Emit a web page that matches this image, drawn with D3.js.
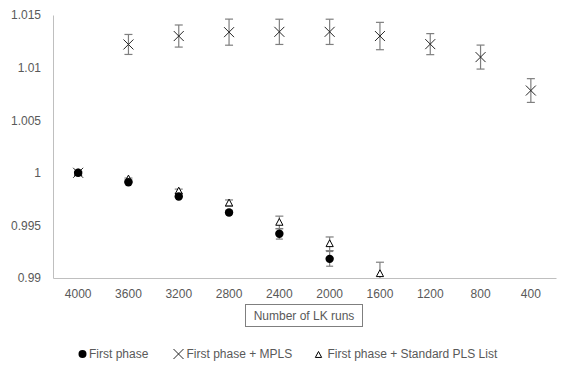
<!DOCTYPE html>
<html>
<head>
<meta charset="utf-8">
<script src="https://cdn.jsdelivr.net/npm/d3@7"></script>
<style>
  body { margin: 0; background: #fff; }
  text { font-family: "Liberation Sans", Arial, sans-serif; }
</style>
</head>
<body>
<div id="chart"></div>
<script>
var width = 572, height = 376
var margin = {top: 15, right: 16, bottom: 98, left: 53}

// data
var runs = ["4000", "3600", "3200", "2800", "2400", "2000", "1600", "1200", "800", "400"]
var firstPhase = [1.0, 0.9991, 0.99775, 0.99623, 0.9942, 0.99182]
var firstPhaseErr = [0.0001, 0.0001, 0.00015, 0.0002, 0.0005, 0.0007]
var mpls = [1.0, 1.0122, 1.0130, 1.01337, 1.0134, 1.0134, 1.0130, 1.01223, 1.0110, 1.00782]
var mplsErr = [0.0001, 0.00095, 0.00105, 0.00124, 0.0012, 0.0012, 0.0013, 0.001, 0.00114, 0.00113]
var standardPls = [1.0, 0.9994, 0.99825, 0.99712, 0.99528, 0.99325, 0.9904]
var standardPlsErr = [0.0001, 0.0001, 0.0002, 0.0003, 0.0006, 0.00065, 0.0011]
var yTicks = [0.99, 0.995, 1, 1.005, 1.01, 1.015]

var svg = d3.select("#chart")
  .append("svg")
  .attr("width", width)
  .attr("height", height)

var xScale = d3.scaleBand()
  .domain(runs)
  .range([margin.left, width - margin.right])

var yScale = d3.scaleLinear()
  .domain([0.99, 1.015])
  .range([height - margin.bottom, margin.top])

// clip to plot area
svg.append("clipPath")
  .attr("id", "plot-clip")
  .append("rect")
  .attr("x", margin.left)
  .attr("y", margin.top - 2)
  .attr("width", xScale.range()[1] - margin.left)
  .attr("height", yScale(0.99) - margin.top + 2)

// Y axis
var yAxis = d3.axisLeft(yScale)
  .tickValues(yTicks)
  .tickSize(0)
  .tickPadding(12)
  .tickFormat(d => String(+d.toFixed(3)))

svg.append("g")
  .attr("transform", `translate(${margin.left},0)`)
  .attr("class", "y-axis")
  .call(yAxis)
  .call(g => g.select(".domain").attr("stroke", "#bfbfbf"))
  .selectAll("text")
  .style("font-size", "12px")
  .style("fill", "#595959")

// X axis
var xAxis = d3.axisBottom(xScale)
  .tickSize(0)
  .tickPadding(11)

svg.append("g")
  .attr("transform", `translate(0,${yScale(0.99)})`)
  .attr("class", "x-axis")
  .call(xAxis)
  .call(g => g.select(".domain").attr("stroke", "#bfbfbf"))
  .selectAll("text")
  .style("font-size", "12px")
  .style("fill", "#595959")

// axis title in a box
var titleG = svg.append("g")
titleG.append("rect")
  .attr("x", 245.5)
  .attr("y", 304.5)
  .attr("width", 117)
  .attr("height", 22)
  .attr("fill", "white")
  .attr("stroke", "#7f7f7f")
titleG.append("text")
  .attr("x", 304)
  .attr("y", 320)
  .attr("text-anchor", "middle")
  .style("font-size", "12px")
  .style("fill", "#595959")
  .text("Number of LK runs")

var plot = svg.append("g").attr("clip-path", "url(#plot-clip)")
var cx = i => xScale(runs[i]) + xScale.bandwidth() / 2

function errorBars(values, errs, cap) {
  var g = plot.append("g").attr("class", "err")
  values.forEach((v, i) => {
    var x = cx(i)
    var y0 = yScale(v - errs[i]), y1 = yScale(v + errs[i])
    g.append("line").attr("x1", x).attr("x2", x).attr("y1", y0).attr("y2", y1)
    g.append("line").attr("x1", x - cap).attr("x2", x + cap).attr("y1", y0).attr("y2", y0)
    g.append("line").attr("x1", x - cap).attr("x2", x + cap).attr("y1", y1).attr("y2", y1)
  })
  g.selectAll("line").attr("stroke", "#7f7f7f").attr("stroke-width", 1.2)
}

function cross(x, y, s) {
  return `M${x - s},${y - s}L${x + s},${y + s}M${x - s},${y + s}L${x + s},${y - s}`
}
function tri(x, y, s) {
  return `M${x},${y - s}L${x + s * 0.9},${y + s * 0.7}L${x - s * 0.9},${y + s * 0.7}Z`
}

// MPLS series
errorBars(mpls, mplsErr, 4)
plot.append("g")
  .selectAll("path")
  .data(mpls)
  .enter()
  .append("path")
  .attr("d", (d, i) => cross(cx(i), yScale(d), 5))
  .attr("stroke", "#262626")
  .attr("stroke-width", 1)
  .attr("fill", "none")

// Standard PLS list series
errorBars(standardPls, standardPlsErr, 4)
plot.append("g")
  .selectAll("path")
  .data(standardPls)
  .enter()
  .append("path")
  .attr("d", (d, i) => tri(cx(i), yScale(d), 4))
  .attr("stroke", "#000")
  .attr("stroke-width", 1)
  .attr("fill", "white")

// First phase series
errorBars(firstPhase, firstPhaseErr, 3.5)
plot.append("g")
  .selectAll("circle")
  .data(firstPhase)
  .enter()
  .append("circle")
  .attr("cx", (d, i) => cx(i))
  .attr("cy", d => yScale(d))
  .attr("r", 4.2)
  .attr("fill", "#000")

// legend
var legend = svg.append("g").attr("class", "legend")
var legendY = 354
legend.append("circle").attr("cx", 82.5).attr("cy", legendY).attr("r", 4).attr("fill", "#000")
legend.append("path").attr("d", cross(178.5, legendY, 5)).attr("stroke", "#262626").attr("fill", "none")
legend.append("path").attr("d", tri(318.5, legendY + 1, 3.5)).attr("stroke", "#000").attr("fill", "white")
var legendItems = [["First phase", 89], ["First phase + MPLS", 186.5], ["First phase + Standard PLS List", 327.5]]
legend.selectAll("text")
  .data(legendItems)
  .enter()
  .append("text")
  .attr("x", d => d[1])
  .attr("y", legendY + 4)
  .style("font-size", "12px")
  .style("fill", "#595959")
  .text(d => d[0])
</script>
</body>
</html>
